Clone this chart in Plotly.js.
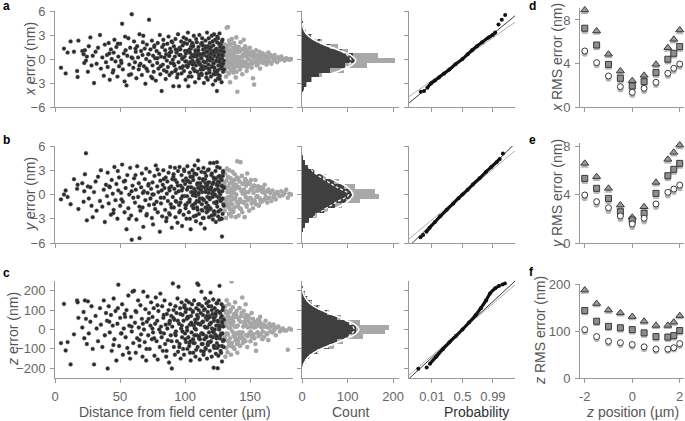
<!DOCTYPE html>
<html><head><meta charset="utf-8">
<script src="https://cdn.plot.ly/plotly-3.0.1.min.js"></script>
<style>html,body{margin:0;padding:0;background:#fff}#chart{width:685px;height:421px}</style>
</head><body><div id="chart"></div>
<script>
// ---------- scatter data (same beads for x, y, z errors) ----------
const darkDist = [
4.6,6.9,8.2,9.7,12.0,14.6,17.0,17.4,18.0,21.0,
22.0,22.5,23.0,23.8,24.5,25.3,26.0,27.2,28.1,29.0,
30.0,31.2,32.0,33.1,34.6,35.3,36.4,37.5,38.3,39.2,
40.0,40.5,41.3,42.1,43.0,43.6,44.4,45.1,45.7,46.5,
47.2,48.0,48.7,49.3,50.1,50.8,51.6,52.2,52.9,53.5,
54.3,55.0,55.6,56.4,57.1,57.8,58.5,59.0,59.6,60.2,
60.8,61.5,62.1,62.6,63.2,63.9,64.4,65.0,65.7,66.2,
66.8,67.3,67.9,68.4,69.0,69.5,70.1,70.6,71.2,71.7,
72.3,72.8,73.4,73.9,74.5,75.0,75.4,75.9,76.5,77.0,
77.5,78.1,78.6,79.0,79.5,80.1,80.6,81.0,81.5,82.0,
82.4,82.9,83.3,83.8,84.2,84.7,85.1,85.5,86.0,86.4,
86.8,87.3,87.7,88.1,88.6,89.0,89.4,89.8,90.2,90.6,
91.0,91.4,91.8,92.2,92.6,93.0,93.4,93.8,94.2,94.6,
95.0,95.4,95.8,96.2,96.6,97.0,97.3,97.7,98.1,98.5,
98.9,99.2,99.6,100.0,100.4,100.7,101.1,101.5,101.8,102.2,
102.5,102.9,103.2,103.6,103.9,104.3,104.6,105.0,105.3,105.7,
106.0,106.3,106.7,107.0,107.4,107.7,108.0,108.4,108.7,109.0,
109.4,109.7,110.0,110.3,110.7,111.0,111.3,111.6,112.0,112.3,
112.6,112.9,113.2,113.6,113.9,114.2,114.5,114.8,115.1,115.4,
115.7,116.0,116.3,116.6,116.9,117.2,117.5,117.8,118.1,118.4,
118.7,119.0,119.3,119.6,119.9,120.2,120.5,120.8,121.1,121.4,
121.7,122.0,122.3,122.5,122.8,123.1,123.4,123.7,124.0,124.2,
124.5,124.8,125.1,125.4,125.6,125.9,126.2,126.5,126.7,127.0,
127.3,127.6,127.8,128.1,128.4,128.6,128.9,129.2,129.4,129.7,
101.3,103.4,105.5,107.2,109.2,111.4,113.4,115.9,118.9,121.9,
123.9,125.3,126.9,128.3,129.9,100.9,104.1,108.2,112.5,116.8,
119.8,122.6,124.6,127.1,129.0,96.4,92.4,88.3,110.5,117.4,
41.8,44.9,48.3,51.1,53.9,56.9,58.9,61.9,64.9,67.6,
70.3,72.0,74.9,76.2,78.8,81.3,83.6,85.8,87.9,89.6,
91.2,92.8,94.4,95.6,97.5,99.4,100.2,101.6,102.7,103.8,
104.8,105.9,106.5,107.5,108.5,109.5,110.2,110.8,111.8,112.8,
113.1,113.8,114.4,115.2,115.8,116.4,117.0,117.6,118.2,118.8,
119.4,120.0,120.6,121.2,121.8,122.4,122.9,123.5,124.1,124.7,
125.2,125.7,126.0,126.6,127.2,127.7,128.2,128.8,129.3,129.8,
98.0,102.0,106.2,110.1,114.0,118.0,122.1,126.3,128.5,124.3];
const darkErrX = [
-1.1,1.3,-1.8,0.8,2.2,0.9,-1.5,-2.25,2.3,1.0,
0.6,-0.5,1.1,-0.2,0.3,-1.6,1.6,2.7,-0.8,0.4,
-3.0,0.9,-0.6,1.4,3.0,-1.2,0.2,-2.1,1.8,-0.4,
0.5,-1.0,2.0,-2.6,1.2,0.0,-1.7,0.8,2.4,-0.3,
1.5,-2.2,0.3,-0.9,1.9,-0.2,4.4,-1.3,0.7,-2.8,
1.1,-3.3,0.4,2.6,-0.7,1.4,-1.9,5.6,0.1,-1.1,
2.2,-0.4,0.9,-2.4,1.6,0.2,-1.3,3.1,-0.6,1.0,
-2.0,0.5,2.9,-0.9,1.3,-3.1,0.0,1.8,-1.5,0.6,
4.9,-0.3,1.2,-2.2,2.3,-0.8,0.4,-1.6,1.7,0.1,
-2.7,1.0,-0.5,2.0,-1.2,0.7,3.0,-1.9,0.3,-4.0,
1.5,-0.7,2.4,-1.4,0.2,1.1,-2.5,0.6,-0.2,1.9,
-1.0,2.8,0.4,-2.0,1.3,-0.5,0.9,-1.7,2.1,-0.1,
-3.4,1.6,-0.8,0.3,2.5,-1.3,0.8,-2.3,1.1,3.1,
-0.4,-3.4,1.4,-1.1,0.5,2.2,-1.8,0.0,1.7,-0.9,
2.7,-1.5,0.3,1.0,-2.6,0.7,-0.3,1.9,-1.0,3.3,
-3.4,0.9,-0.6,2.3,-1.7,0.2,1.3,-2.2,0.5,-0.2,
1.8,-1.2,2.9,-0.5,0.6,-2.9,1.1,-0.8,0.3,2.1,
-1.6,0.8,-0.1,1.5,-2.4,3.0,-0.7,0.4,-1.3,1.9,
0.1,-2.0,2.6,-0.9,1.2,-0.3,-3.0,0.7,1.6,-1.1,
2.3,-0.4,0.9,-1.8,3.3,0.3,-2.6,1.4,-0.7,0.5,
-1.4,2.0,-0.2,1.1,-2.2,0.6,2.9,-0.9,0.0,-3.2,
1.7,-0.6,3.1,0.4,-1.5,2.4,-2.7,0.8,-0.3,1.3,
-4.0,0.2,-1.9,2.6,-0.8,1.0,-0.1,3.2,-2.1,0.6,
-1.2,1.8,0.3,-2.9,2.2,-0.5,0.9,-1.6,1.4,-0.2,
-0.8,1.2,2.0,-1.4,0.5,-0.6,1.7,-1.0,1.3,-1.9,
0.9,-2.4,1.5,0.1,-1.3,2.5,-0.4,1.0,-1.8,0.3,
0.7,-1.1,2.1,-0.7,0.4,1.2,-1.5,0.8,-0.3,1.6,
0.7,-1.4,1.9,-0.5,2.8,-2.0,0.2,1.3,-0.8,2.1,
-1.2,0.6,-2.4,1.5,0.1,-0.9,1.8,-1.6,0.4,2.2,
-0.6,1.2,-1.9,0.5,-1.1,2.0,-0.3,1.0,-2.2,0.8,
1.6,-0.7,0.3,-1.5,2.5,-0.2,1.1,-2.0,0.6,-1.0,
2.0,-1.3,0.5,-0.4,1.4,-2.3,0.9,-0.1,2.6,-1.7,
0.2,1.5,-1.0,2.2,-0.5,0.8,-1.9,1.2,-0.2,2.8,
-1.4,0.5,1.9,-2.5,0.0,1.1,-0.9,2.4,-0.6,0.9,
0.1,-0.9,1.6,-0.4,0.7,-1.2,1.0,-0.3,0.5,-1.6];
const darkErrY = [
-0.6,0.0,0.5,-0.3,-1.2,1.9,0.7,1.2,-1.8,1.4,
-0.9,0.4,2.5,5.1,-3.2,1.0,-0.5,0.9,-1.4,-2.8,
0.3,1.6,-2.0,2.2,-0.8,3.0,-1.5,0.6,-3.4,1.2,
-0.2,2.7,-1.1,0.9,-2.5,1.8,0.1,-1.9,3.4,-0.7,
1.3,-3.0,0.5,2.1,-1.4,0.2,3.7,-0.9,1.6,-2.2,
0.8,-4.3,2.4,-1.7,0.0,3.3,-2.6,-5.6,1.1,-0.4,
2.0,-1.0,0.6,-3.1,3.5,-0.3,1.4,-5.4,-2.0,0.9,
2.6,-1.6,-4.0,0.4,1.9,-0.7,3.2,-2.4,0.2,1.1,
-1.3,2.8,-0.5,0.7,-2.9,1.5,-3.7,0.0,2.3,-1.8,
3.6,-0.9,1.0,-2.2,0.3,2.5,-4.6,1.7,-1.1,0.5,
-2.7,1.2,3.0,-0.4,0.8,-1.9,2.1,-3.3,0.1,1.6,
-0.8,2.7,-2.3,0.5,3.4,-1.2,1.0,-4.1,1.9,-0.3,
2.2,-1.6,0.7,3.3,-2.8,0.2,-0.9,1.5,-3.5,2.9,
0.4,-1.3,3.4,-2.0,1.1,-0.5,2.4,-3.9,0.8,1.7,
-2.5,3.1,-0.2,1.3,-1.7,2.0,-3.0,0.6,3.5,-1.0,
0.9,-2.2,2.7,-0.6,1.5,-4.3,0.3,2.2,-1.4,3.0,
-0.1,1.8,-2.7,0.7,3.6,-1.1,0.4,-3.3,2.5,-0.8,
1.2,-1.9,4.2,0.0,-2.4,2.0,-0.5,1.4,-3.6,0.6,
2.8,-1.2,0.3,-2.9,1.7,3.3,-0.7,0.9,-4.2,1.9,
-1.6,0.5,2.3,-2.2,1.0,-0.3,3.0,-1.4,0.2,-2.8,
1.5,-0.6,3.9,-1.8,0.8,2.4,-2.6,0.1,1.3,-3.1,
0.4,3.9,-1.0,1.9,-2.3,0.6,2.9,-3.4,-0.2,1.2,
4.0,-1.5,0.7,-2.7,2.2,-0.4,1.5,-3.1,3.3,0.0,
-1.9,2.0,-0.7,1.1,-5.2,0.4,-2.4,2.7,-1.2,0.8,
1.7,-0.9,0.3,2.6,-1.6,0.9,-2.0,1.4,-0.4,2.1,
-1.1,1.6,-0.5,-3.0,0.9,-1.3,2.2,-0.2,1.0,-1.7,
0.6,-2.1,1.3,-0.6,2.3,-1.0,1.8,-2.5,0.2,0.7,
1.0,-2.3,2.9,-0.6,1.7,-3.0,0.4,2.4,-1.5,0.2,
-2.6,1.3,0.0,-1.2,3.1,-0.4,1.9,-2.9,0.8,-1.6,
2.5,-0.8,1.1,-2.2,0.5,2.9,-1.3,-0.2,1.6,-3.0,
0.9,2.2,-1.7,0.1,-2.6,1.4,3.2,-0.9,0.6,-1.9,
-0.5,1.9,-2.9,2.7,0.3,-1.0,1.2,-2.0,3.1,0.6,
-1.7,0.9,2.6,-0.3,1.5,-2.5,0.0,2.0,-1.1,3.4,
1.1,-2.1,0.5,2.3,-0.8,-3.0,1.8,-0.5,2.9,-1.4,
-0.2,1.7,-1.3,0.8,-0.6,1.5,-2.1,0.3,1.0,-0.9];
const darkErrZ = [
-70,132,-108,-65,-180,-25,150,140,60,10,
90,-45,150,55,-75,145,-20,40,120,-100,
-180,70,5,-60,110,25,-90,150,-30,85,
45,-201,120,-15,75,-110,20,160,-50,95,
-160,30,231,-85,60,-20,130,-130,5,80,
-40,100,-95,175,20,-150,65,-10,195,-70,
200,35,-120,90,-45,150,10,-85,125,-25,
55,-140,195,0,-65,105,-160,40,170,-30,
85,-100,20,140,-50,65,-15,110,-135,30,
165,-60,45,-155,95,0,-90,185,15,-40,
120,-110,60,-20,150,-75,25,-140,80,5,
-55,100,-170,40,130,-30,70,-201,15,237,
60,-90,50,-130,120,-10,85,-60,160,-115,
220,30,-75,110,-150,5,140,-40,75,-100,
45,-130,125,-20,90,-65,150,10,-100,60,
-40,140,-85,25,105,-160,70,-15,130,-55,
95,-120,20,150,-70,50,-140,0,110,-30,
237,-90,65,230,-45,130,-155,30,85,-110,
195,-20,120,-75,40,-130,100,-50,15,160,
-95,60,-35,135,-150,10,90,-65,145,-15,
70,-110,30,190,-60,120,-140,5,80,-40,
155,-197,45,-85,110,-25,70,-125,20,135,
-70,95,-200,40,-135,150,0,225,-45,85,
-110,60,-20,130,-165,30,100,-60,15,-90,
55,-70,25,-30,75,-50,40,-100,65,-15,
90,-40,20,-85,50,105,-60,35,-20,70,
-35,60,-95,15,-55,80,-20,45,100,-75,
40,-80,110,-20,65,-120,15,95,-55,30,
-100,55,5,-45,125,-15,75,-110,30,-60,
100,-30,45,-90,20,115,-50,-5,65,-120,
35,90,-70,5,-105,55,130,-35,25,-75,
-20,75,-115,105,10,-40,50,-80,120,25,
-65,35,100,-10,60,-95,0,80,-45,135,
45,-85,20,90,-30,-120,70,-20,115,-55,
-10,65,-50,30,-25,60,-85,10,40,-35];

const greyDist = [
130.2,130.5,130.8,131.0,131.3,131.5,131.8,132.0,132.2,132.5,
132.7,133.0,133.2,133.4,133.7,133.9,134.1,134.4,134.6,134.8,
135.1,135.3,135.5,135.8,136.0,136.2,136.5,136.7,137.0,137.2,
137.5,137.7,138.0,138.2,138.5,138.8,139.0,139.3,139.6,139.9,
131.1,133.5,135.9,137.9,139.4,140.2,140.5,140.9,141.2,141.6,
141.9,142.3,142.6,143.0,143.3,143.7,144.0,144.4,144.7,145.1,
145.4,145.8,146.2,146.6,147.0,147.4,147.8,148.3,148.8,149.3,
149.8,150.3,150.8,151.2,151.7,152.2,152.7,153.1,153.6,154.1,
154.6,155.1,155.6,156.1,156.6,157.2,157.7,158.3,158.8,159.4,
160.0,160.6,161.2,161.9,162.6,163.3,164.0,164.8,165.6,166.4,
167.2,168.0,168.9,169.8,170.8,171.8,172.9,174.0,175.2,176.5,
177.8,179.0,180.2,181.5,134.2,136.9,142.8,146.9,151.5,156.9,
130.4,131.6,132.9,134.0,135.0,136.4,137.4,138.6,139.7,140.7,
141.4,142.1,143.5,144.2,145.6,146.4,147.2,148.0,149.0,150.5,
151.9,153.3,154.8,156.3,158.0,159.8,161.5,163.0,165.2,168.4];
const greyErrX = [
0.5,-1.2,1.8,-0.3,0.9,-2.2,1.3,3.9,-0.7,0.2,
1.5,4.0,-1.0,0.6,-1.8,2.3,-0.2,0.9,-2.9,1.1,
-0.5,1.9,0.3,-1.4,2.5,-0.8,0.7,-0.1,1.4,-1.7,
0.4,2.0,-1.1,0.8,-0.4,1.6,-2.3,0.1,1.2,-0.9,
-1.5,0.6,-0.6,1.0,2.7,-4.1,0.3,-0.8,1.5,-0.2,
0.9,-1.3,2.1,0.2,-0.6,1.2,-1.9,0.5,-0.3,2.4,
-0.9,0.7,1.6,-0.4,0.3,-1.5,1.0,0.0,-0.7,0.8,
1.4,-0.5,0.4,-1.1,0.9,-2.4,0.2,-3.2,0.6,-0.3,
1.1,-0.8,0.5,0.0,-0.4,0.9,-1.2,0.3,-0.2,0.7,
-0.5,0.6,-0.1,0.4,-0.7,0.2,0.8,-0.3,0.5,-0.6,
0.3,-0.2,0.5,0.1,-0.4,0.2,-0.1,0.3,0.0,-0.2,
0.1,0.0,-0.1,0.0,1.8,-1.3,-0.9,1.2,-0.6,0.4,
-0.9,1.1,-0.3,1.7,-1.3,0.5,-0.6,1.3,-1.6,0.9,
-0.4,1.0,-0.8,0.3,1.2,-0.6,0.4,-1.0,0.6,-0.2,
0.5,-0.4,0.2,-0.6,0.4,-0.1,0.3,-0.3,0.2,-0.1];
const greyErrY = [
1.2,-2.0,2.6,-0.5,0.8,-2.9,1.7,-1.1,3.2,0.3,
-1.5,2.2,-0.3,1.0,-2.4,3.0,0.5,-1.8,1.4,-0.8,
2.0,-0.2,-2.7,1.5,0.6,-1.2,2.8,-0.6,0.9,-2.1,
0.2,1.8,-1.6,2.5,-0.4,0.7,-2.8,1.2,-0.9,2.1,
-0.7,0.4,-1.9,1.1,0.0,4.1,-1.4,2.0,-2.6,0.8,
1.6,-0.6,4.0,-1.8,0.5,2.3,-2.2,0.1,1.4,-1.0,
0.6,-2.8,1.9,-0.3,1.1,-1.5,2.6,-0.7,0.3,-2.0,
1.3,-0.4,1.8,-1.1,0.7,-1.7,0.2,1.1,-0.8,1.8,
-1.2,0.5,-0.2,1.0,-1.4,0.6,-0.5,0.9,-0.9,0.3,
0.8,-0.7,1.2,-0.3,0.4,-1.0,0.6,-0.4,0.2,-0.8,
0.5,-0.3,0.1,-0.6,0.3,0.0,-0.2,0.4,-0.1,0.2,
0.6,-0.4,0.1,0.0,-1.2,1.5,-0.9,1.7,0.8,-1.3,
1.5,-0.6,2.1,-1.4,0.3,-2.2,1.0,-0.4,1.9,-1.2,
0.9,-1.7,0.4,1.3,-0.9,0.2,-1.3,1.5,-0.5,0.6,
-0.7,1.0,-0.3,0.5,-0.8,0.4,0.2,-0.5,0.3,-0.2];
const greyErrZ = [
60,-40,120,-140,20,85,-95,150,-20,45,
-117,70,-60,10,130,-80,35,90,-45,5,
100,-130,25,248,-70,55,-10,115,-90,40,
-30,80,-100,15,140,-55,65,-20,95,-75,
30,-65,50,-35,75,-120,20,-50,60,-15,
110,-85,40,-25,70,-40,165,-70,15,95,
-55,30,60,130,-30,45,-90,10,70,-20,
35,-60,15,85,-40,55,-25,10,40,-75,
-110,30,-15,50,-35,20,65,-25,10,-50,
25,-40,15,45,-20,10,-55,30,-10,20,
-15,25,5,-30,10,15,-10,0,5,-5,
-5,-104,5,0,-80,60,-45,75,-30,50,
-50,95,-25,60,-85,30,75,-40,15,-65,
50,-30,85,-15,40,-60,20,-35,55,-10,
30,-45,15,-20,35,-10,20,-25,10,-5];

// ---------- histograms (horizontal, stacked) ----------
const histA_y = [-4.4,-3.8,-3.2,-2.6,-2.0,-1.4,-0.8,-0.2,0.4,1.0,1.6,2.2,2.8,3.4,4.0,4.6];
const histA_dark = [1,4,9,20,38,62,95,116,112,88,62,40,20,9,4,2];
const histA_grey = [0,0,1,2,5,30,48,88,55,12,17,3,2,0,0,0];
const histB_y = [-5.0,-4.4,-3.8,-3.2,-2.6,-2.0,-1.4,-0.8,-0.2,0.4,1.0,1.6,2.2,2.8,3.4,4.0,4.6,5.2];
const histB_dark = [1,3,7,15,28,48,73,96,110,108,92,70,47,27,14,6,2,1];
const histB_grey = [0,0,0,1,4,8,14,32,58,52,24,12,5,2,1,0,0,0];
const histC_y = [-237.5,-212.5,-187.5,-162.5,-137.5,-112.5,-87.5,-62.5,-37.5,-12.5,12.5,37.5,62.5,87.5,112.5,137.5,162.5,187.5,212.5,237.5];
const histC_dark = [0,1,3,7,15,33,60,76,103,119,119,103,76,55,36,22,12,6,3,1];
const histC_grey = [0,0,0,1,2,4,10,14,31,63,72,24,10,5,3,1,1,0,0,0];

// fitted curves (white solid) and dashed curves
const fitA_y = [4.5,4.0,3.5,3.0,2.5,2.0,1.5,1.0,0.5,-0.2,-0.9,-1.4,-1.9,-2.4,-2.9,-3.4,-3.9,-4.4,-4.9];
const fitA_n = [0.9,2.3,5.6,12.1,23.4,40.2,62.1,85.7,105.8,118,105.8,85.7,62.1,40.2,23.4,12.1,5.6,2.3,0.9];
const dashA_y = [5.13,4.56,3.99,3.43,2.86,2.29,1.73,1.16,0.59,-0.2,-0.99,-1.56,-2.13,-2.69,-3.26,-3.83,-4.39,-4.96,-5.53];
const dashA_n = [0.8,2.1,5.1,11.1,21.4,36.8,56.8,78.4,96.8,108,96.8,78.4,56.8,36.8,21.4,11.1,5.1,2.1,0.8];
const fitB_y = [5.8,5.18,4.56,3.95,3.33,2.71,2.10,1.48,0.86,0,-0.86,-1.48,-2.10,-2.71,-3.33,-3.95,-4.56,-5.18,-5.8];
const fitB_n = [0.9,2.2,5.3,11.5,22.2,38.2,58.9,81.3,100.4,112,100.4,81.3,58.9,38.2,22.2,11.5,5.3,2.2,0.9];
const dashB_y = [5.9,5.5,5.17,4.48,3.77,3.07,2.38,1.68,0.97,0,-0.97,-1.68,-2.38,-3.07,-3.77,-4.48,-5.17,-5.5,-5.9];
const dashB_n = [0.5,0.8,2.0,4.9,10.5,20.3,34.9,53.9,74.4,102.5,74.4,53.9,34.9,20.3,10.5,4.9,2.0,0.8,0.5];
const fitC_y = [213,190,168,145,122,100,77,54,32,0,-32,-54,-77,-100,-122,-145,-168,-190,-213];
const fitC_n = [1.0,2.4,5.9,12.8,24.8,42.6,65.8,90.8,112,125,112,90.8,65.8,42.6,24.8,12.8,5.9,2.4,1.0];
const dashC_y = [241,216,190,164,139,113,87,61,36,0,-36,-61,-87,-113,-139,-164,-190,-216,-241];
const dashC_n = [0.85,2.2,5.4,11.8,22.7,39,60.2,83.1,102.6,114.5,102.6,83.1,60.2,39,22.7,11.8,5.4,2.2,0.85];

// ---------- normal probability plots ----------
const probA_q = [-3.18,-2.93,-2.68,-2.4,-2.1,-1.8,-1.4,-1.0,-0.53,0,0.4,0.73,1.1,1.5,2.0,2.3,2.5,2.75,3.0,3.26];
const probA_v = [-4.1,-4.0,-3.6,-3.05,-2.7,-2.3,-1.8,-1.3,-0.67,0,0.6,1.1,1.6,2.1,2.7,3.0,3.3,4.3,4.9,5.5];
const probB_q = [-3.2,-3.0,-2.75,-2.5,-2.1,-1.7,-1.2,-0.7,-0.3,0,0.4,0.8,1.3,1.8,2.2,2.6,2.85,3.09];
const probB_v = [-5.3,-5.0,-4.6,-4.1,-3.4,-2.7,-1.9,-1.1,-0.45,0,0.6,1.25,2.0,2.8,3.4,4.0,4.4,5.07];
const probC_q = [-3.37,-2.73,-2.48,-2.0,-1.5,-1.0,-0.5,0,0.5,1.0,1.4,1.8,2.1,2.5,2.8,3.05,3.24];
const probC_v = [-202,-196,-176,-140,-102,-66,-33,0,36,74,110,150,185,212,225,232,237];
const refQ = [-4.08,4.01];
const refA_black = [-5.5,5.4], refA_grey = [-4.7,4.6];
const refB_black = [-6.4,6.3], refB_grey = [-5.5,5.4];
const refC_black = [-253,249], refC_grey = [-235,230];
const probTickVals = [-2.326,0,2.326];
const probTickText = ['0.01','0.5','0.99'];

// ---------- RMS error vs z position ----------
const zPos = [-2,-1.5,-1,-0.5,0,0.5,1,1.5,1.75,2];
const dTri = [8.92,6.99,4.85,3.31,2.42,2.91,3.92,5.45,6.22,7.08];
const dSq  = [7.24,5.70,3.92,2.64,1.93,2.33,3.16,4.39,4.94,5.55];
const dCir = [5.15,4.08,2.85,1.87,1.35,1.72,2.27,3.10,3.56,3.95];
const dTriG = [8.7,6.8,4.65,3.1,2.2,2.7,3.7,5.25,6.0,6.85];
const dSqG  = [7.0,5.5,3.72,2.44,1.73,2.13,2.96,4.19,4.74,5.35];
const dCirG = [4.9,3.83,2.6,1.62,1.1,1.47,2.02,2.85,3.31,3.7];
const eTri = [6.57,5.47,4.51,3.13,2.12,2.99,5.0,6.9,7.48,8.08];
const eSq  = [5.33,4.51,3.68,2.58,1.9,2.45,4.1,5.55,6.08,6.57];
const eCir = [3.96,3.41,2.91,2.23,1.57,2.04,3.22,4.18,4.45,4.78];
const eTriG = [6.35,5.25,4.3,2.92,1.92,2.78,4.8,6.7,7.28,7.88];
const eSqG  = [5.12,4.3,3.47,2.37,1.7,2.24,3.9,5.35,5.88,6.37];
const eCirG = [3.7,3.15,2.65,1.97,1.32,1.78,2.96,3.92,4.2,4.52];
const fTri = [189,160,146,140,132,122,113,113,120,134];
const fSq  = [145,122,111,108,104,97,89,88,91,102];
const fCir = [104,89,79,76,72,67,62,62,65,74];
const fTriG = [185,156,142,136,128,118,109,109,116,130];
const fSqG  = [141,118,107,104,100,93,85,84,87,98];
const fCirG = [99,84,74,71,67,62,58,58,61,69];

// ---------- layout geometry ----------
const W = 685, H = 421;
const FONT = 'Liberation Sans, Arial, Helvetica, sans-serif';
const colX = [[55,293],[302,399],[409,515],[580,684]];
const rowY = [[[11,107],[146,243],[281,378]], [[8,107],[143,243],[284,378]]];
const xRanges = [[0,183],[0,213],[-4.08,4.01],[-2.2,2.18]];
const yRangesL = [[-6,6],[-6,6],[-250,250]];
const yRangesR = [[0,9.1],[0,8.25],[0,202]];
const yTicksL = [[-6,-3,0,3,6],[-6,-3,0,3,6],[-200,-100,0,100,200]];
const yTicksR = [[0,4,8],[0,4,8],[0,100,200]];
const xTicks = [[0,50,100,150],[0,100,200],probTickVals,[-2,0,2]];

const layout = {
  width: W, height: H, margin: {l:0,r:0,t:0,b:0},
  paper_bgcolor: '#fff', plot_bgcolor: 'rgba(0,0,0,0)',
  showlegend: false, barmode: 'stack', bargap: 0,
  font: {family: FONT, size: 13, color: '#666'},
  annotations: []
};
function base(extra) {
  return Object.assign({
    showline: true, linecolor: '#999', linewidth: 1,
    ticks: 'outside', ticklen: 4, tickwidth: 1, tickcolor: '#999',
    showgrid: false, zeroline: false, fixedrange: true,
    tickfont: {family: FONT, size: 13, color: '#666'}, ticklabelstandoff: 2
  }, extra);
}
for (let r = 0; r < 3; r++) {
  for (let c = 0; c < 4; c++) {
    const n = r*4 + c + 1;
    const xk = n === 1 ? 'xaxis' : 'xaxis' + n;
    const yk = n === 1 ? 'yaxis' : 'yaxis' + n;
    const yd = c === 3 ? rowY[1][r] : rowY[0][r];
    const xd = colX[c];
    layout[xk] = base({
      domain: [xd[0]/W, xd[1]/W], range: xRanges[c], anchor: 'y' + n,
      tickmode: 'array', tickvals: xTicks[c],
      ticktext: c === 2 ? probTickText : xTicks[c].map(String),
      showticklabels: (r === 2)
    });
    layout[yk] = base({
      domain: [1 - yd[1]/H, 1 - yd[0]/H],
      range: c === 3 ? yRangesR[r] : yRangesL[r], anchor: 'x' + n,
      tickmode: 'array', tickvals: c === 3 ? yTicksR[r] : yTicksL[r],
      showticklabels: (c === 0 || c === 3)
    });
  }
}
const ax = (r, c) => { const n = r*4 + c + 1; return {xaxis: n === 1 ? 'x' : 'x' + n, yaxis: n === 1 ? 'y' : 'y' + n}; };

const traces = [];
const darkErr = [darkErrX, darkErrY, darkErrZ];
const greyErr = [greyErrX, greyErrY, greyErrZ];
for (let r = 0; r < 3; r++) {
  traces.push(Object.assign({type:'scatter', mode:'markers', x: greyDist, y: greyErr[r],
    marker: {color:'#a6a6a6', size: 4.6, line:{width:0}}, hoverinfo:'skip'}, ax(r,0)));
  traces.push(Object.assign({type:'scatter', mode:'markers', x: darkDist, y: darkErr[r],
    marker: {color:'#2b2b2b', size: 3.9, line:{color:'#5a5a5a', width:0.4}}, hoverinfo:'skip'}, ax(r,0)));
}
// histograms
const hists = [[histA_y, histA_dark, histA_grey, 0.6, fitA_y, fitA_n, dashA_y, dashA_n],
               [histB_y, histB_dark, histB_grey, 0.6, fitB_y, fitB_n, dashB_y, dashB_n],
               [histC_y, histC_dark, histC_grey, 25, fitC_y, fitC_n, dashC_y, dashC_n]];
hists.forEach((h, r) => {
  traces.push(Object.assign({type:'bar', orientation:'h', y: h[0], x: h[1], width: h[3],
    marker:{color:'#3f3f3f', line:{width:0}}, hoverinfo:'skip'}, ax(r,1)));
  traces.push(Object.assign({type:'bar', orientation:'h', y: h[0], x: h[2], width: h[3],
    marker:{color:'#a8a8a8', line:{width:0}}, hoverinfo:'skip'}, ax(r,1)));
  traces.push(Object.assign({type:'scatter', mode:'lines', y: h[6], x: h[7],
    line:{color:'#fff', width:1.2, dash:'3px,2px', shape:'spline'}, hoverinfo:'skip'}, ax(r,1)));
  traces.push(Object.assign({type:'scatter', mode:'lines', y: h[4], x: h[5],
    line:{color:'#fff', width:1.6, shape:'spline'}, hoverinfo:'skip'}, ax(r,1)));
});
// probability plots
const probs = [[probA_q, probA_v, refA_black, refA_grey, 2, 17],
               [probB_q, probB_v, refB_black, refB_grey, 2, 17],
               [probC_q, probC_v, refC_black, refC_grey, 2, 15]];
probs.forEach((p, r) => {
  traces.push(Object.assign({type:'scatter', mode:'lines', x: refQ, y: p[3],
    line:{color:'#b0b0b0', width:1}, hoverinfo:'skip'}, ax(r,2)));
  traces.push(Object.assign({type:'scatter', mode:'lines', x: refQ, y: p[2],
    line:{color:'#222', width:0.9}, hoverinfo:'skip'}, ax(r,2)));
  traces.push(Object.assign({type:'scatter', mode:'lines', x: p[0].slice(p[4], p[5]), y: p[1].slice(p[4], p[5]),
    line:{color:'#111', width:3.2, shape:'spline'}, hoverinfo:'skip'}, ax(r,2)));
  traces.push(Object.assign({type:'scatter', mode:'markers', x: p[0], y: p[1],
    marker:{color:'#111', size:4}, hoverinfo:'skip'}, ax(r,2)));
});
// RMS panels
const rms = [[dTri,dSq,dCir,dTriG,dSqG,dCirG],[eTri,eSq,eCir,eTriG,eSqG,eCirG],[fTri,fSq,fCir,fTriG,fSqG,fCirG]];
rms.forEach((s, r) => {
  const shapes = ['triangle-up','square','circle'];
  const sizes = [7, 6, 6];
  for (let k = 0; k < 3; k++) {
    traces.push(Object.assign({type:'scatter', mode:'markers', x: zPos, y: s[k+3], cliponaxis:false,
      marker:{symbol: shapes[k], size: sizes[k], color:'#b4b4b4', line:{width:0}}, hoverinfo:'skip'}, ax(r,3)));
  }
  const fills = ['#9a9a9a','#8e8e8e','#ffffff'];
  for (let k = 0; k < 3; k++) {
    traces.push(Object.assign({type:'scatter', mode:'markers', x: zPos, y: s[k], cliponaxis:false,
      marker:{symbol: shapes[k], size: sizes[k], color: fills[k], line:{color:'#3a3a3a', width:1}}, hoverinfo:'skip'}, ax(r,3)));
  }
});

// titles & panel letters as annotations (pixel positions -> paper)
function ann(text, px, py, opts) {
  layout.annotations.push(Object.assign({text, x: px/W, y: 1 - py/H, xref:'paper', yref:'paper',
    showarrow:false, xanchor:'center', yanchor:'middle',
    font:{family: FONT, size: 14, color:'#555'}}, opts || {}));
}
ann('<i>x</i>\u00a0error (nm)', 30, 59, {textangle:-90});
ann('<i>y</i>\u00a0error (nm)', 30, 194, {textangle:-90});
ann('<i>z</i>\u00a0error (nm)', 13, 329, {textangle:-90});
ann('<i>x</i>\u00a0RMS error (nm)', 557, 58, {textangle:-90});
ann('<i>y</i>\u00a0RMS error (nm)', 557, 194, {textangle:-90});
ann('<i>z</i>\u00a0RMS error (nm)', 540, 331, {textangle:-90});
ann('Distance from field center (µm)', 175, 412);
ann('Count', 350, 412);
ann('Probability', 476, 412, {font:{family: FONT, size: 14, color:'#333'}});
ann('<i>z</i>\u00a0position (µm)', 632, 412);
const letters = [['a',1,6],['b',1,140],['c',1,273],['d',527,6],['e',527,140],['f',527,272]];
letters.forEach(l => ann('<b>' + l[0] + '</b>', l[1], l[2], {xanchor:'left', font:{family: FONT, size: 12, color:'#000'}}));

Plotly.newPlot('chart', traces, layout, {staticPlot: true, displayModeBar: false});
</script>
</body></html>
